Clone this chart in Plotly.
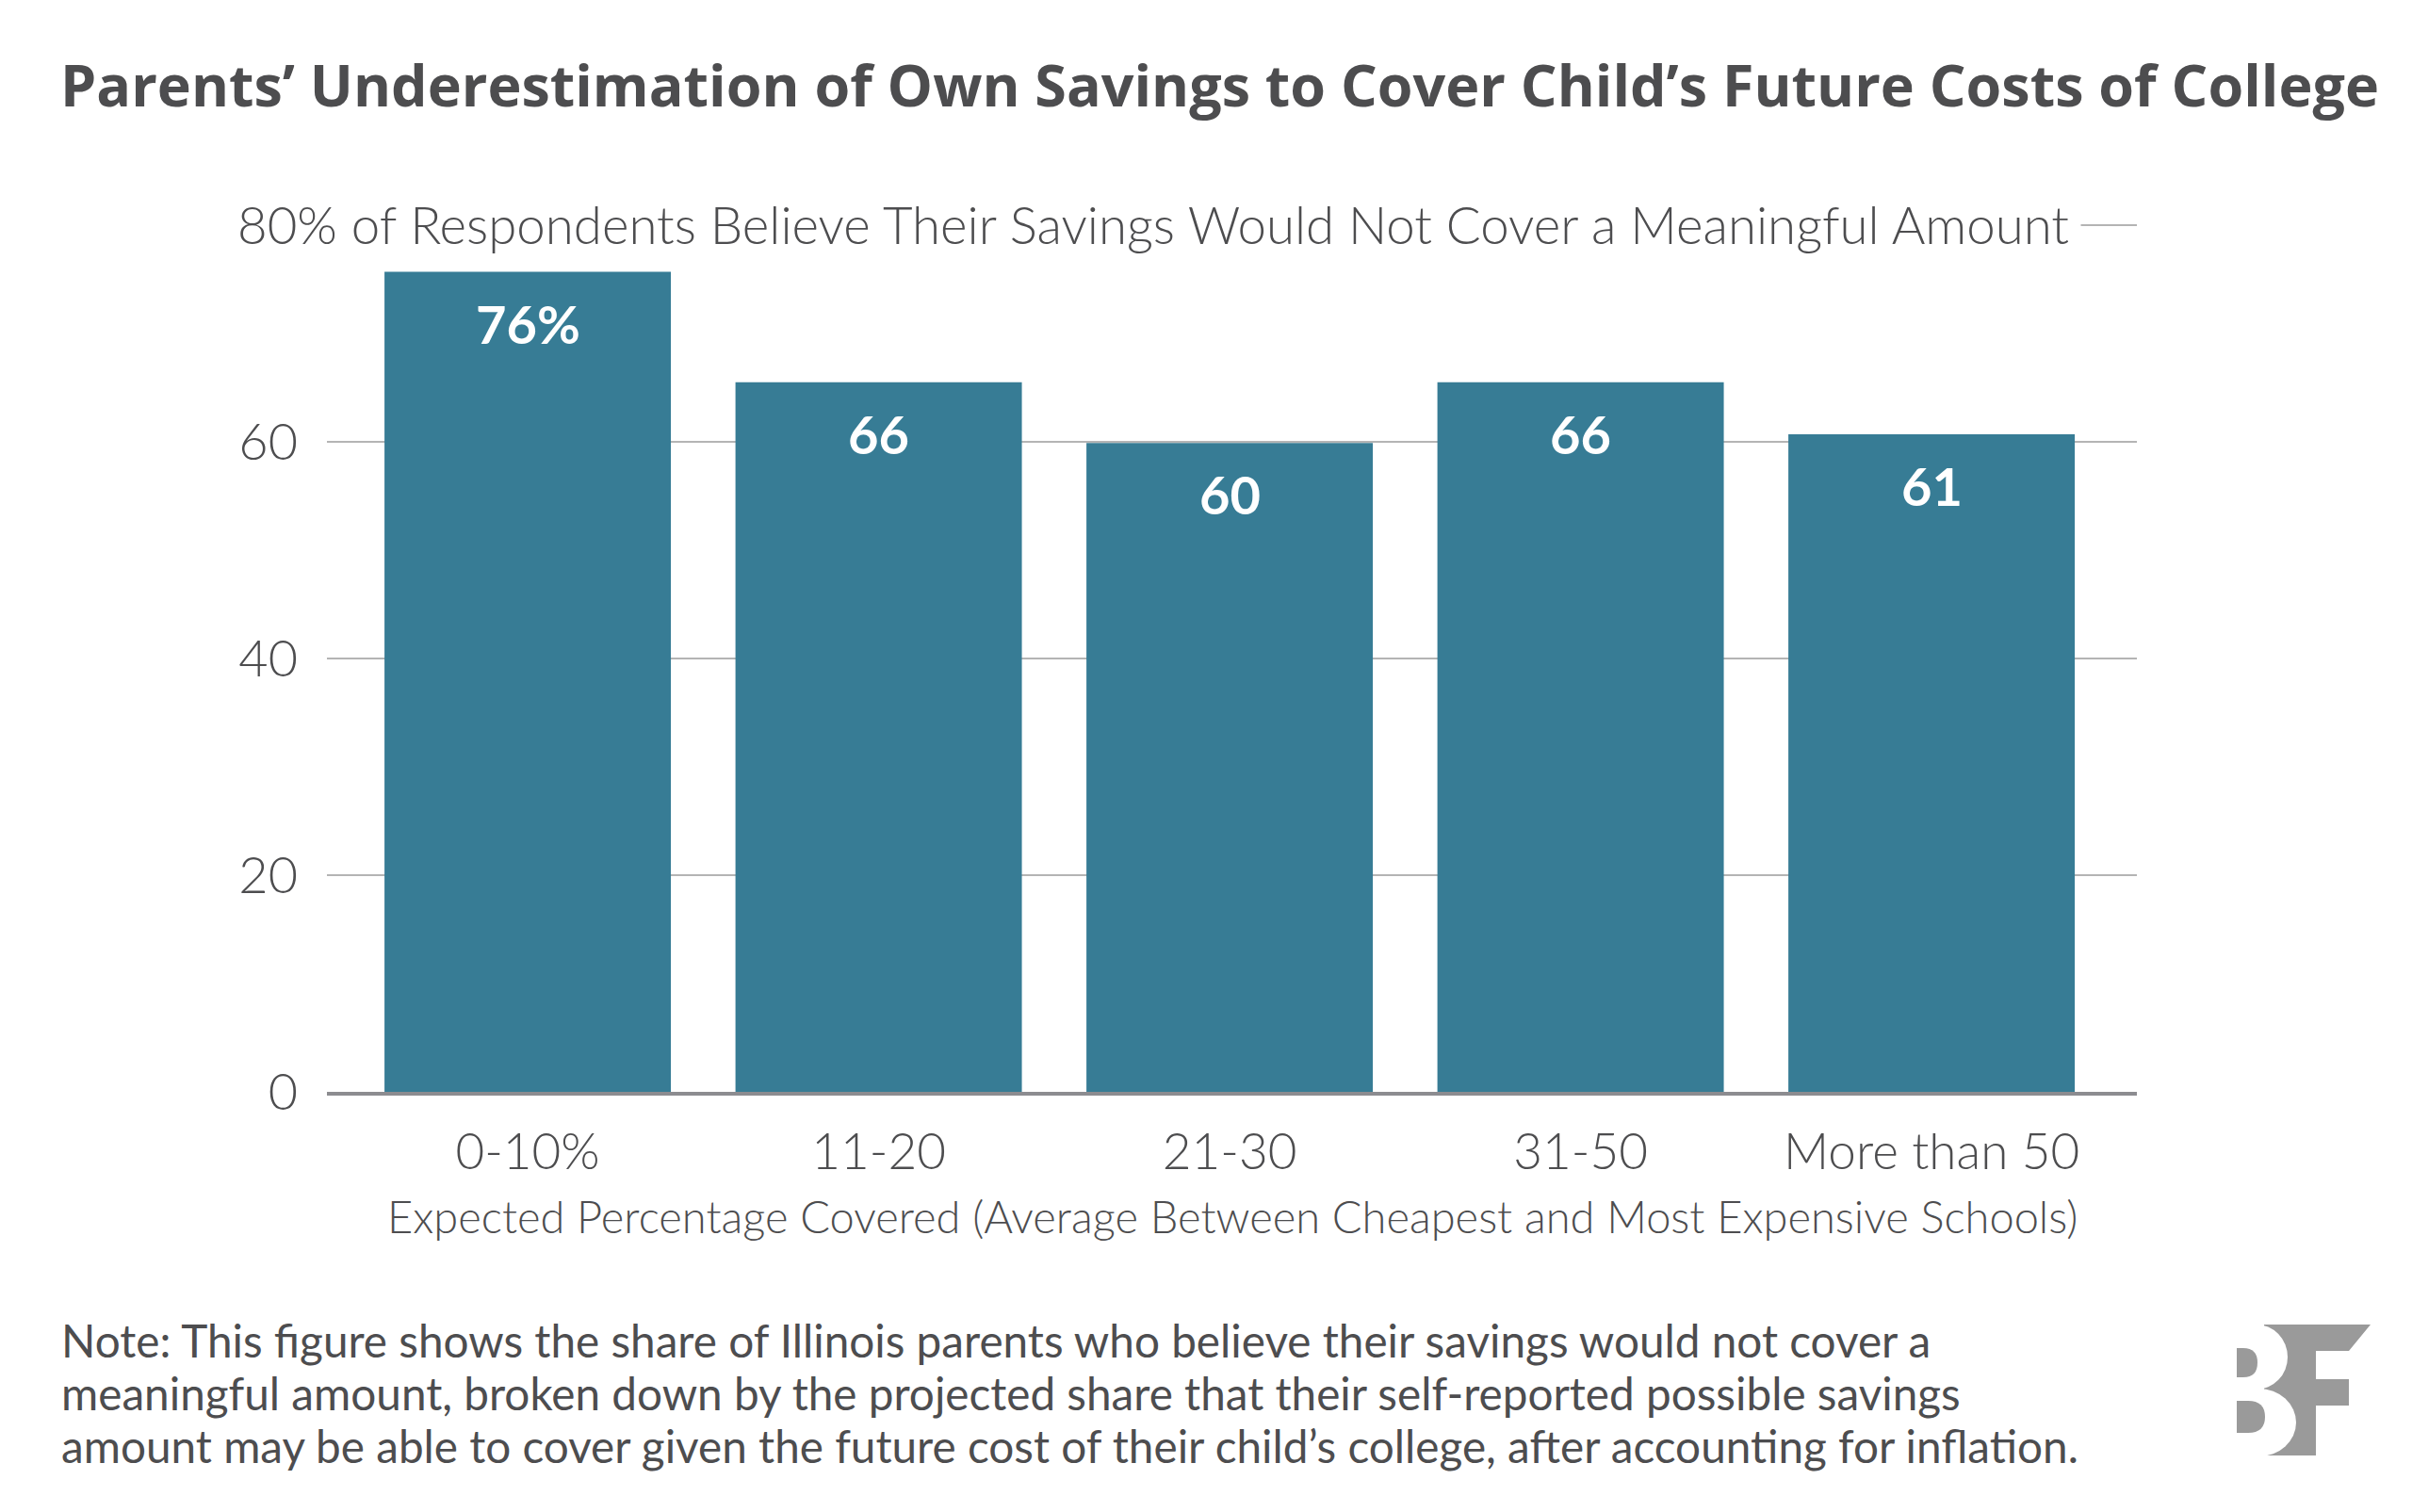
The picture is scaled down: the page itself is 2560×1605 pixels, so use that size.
import plotly.graph_objects as go

# ---------------- data ----------------
categories = ["0-10%", "11-20", "21-30", "31-50", "More than 50"]
values = [75.7, 65.5, 59.9, 65.5, 60.7]
value_labels = ["76%", "66", "60", "66", "61"]
y_tickvals = [0, 20, 40, 60, 80]
y_ticktext = ["0", "20", "40", "60", ""]

title_text = "Parents’ Underestimation of Own Savings to Cover Child’s Future Costs of College"
subtitle_text = "80% of Respondents Believe Their Savings Would Not Cover a Meaningful Amount"
xaxis_title = "Expected Percentage Covered (Average Between Cheapest and Most Expensive Schools)"
note_lines = [
    "Note: This figure shows the share of Illinois parents who believe their savings would not cover a",
    "meaningful amount, broken down by the projected share that their self-reported possible savings",
    "amount may be able to cover given the future cost of their child’s college, after accounting for inflation.",
]

# ---------------- layout constants (reference-pixel coordinates) ----------------
OFF = 8                      # default page body margin
W, H = 2560 - 2 * OFF, 1605 - 2 * OFF
YMAX = 80.1
L, R, B = 347, 2268, 1159
T = B - 920 * YMAX / 80
FONT = "Lato"
TFONT = "Open Sans"
DARK = "#4d4d4f"
BAR = "#377c95"


def px(x):
    return (x - L) / (R - L)


def py(y):
    return (B - y) / (B - T)


fig = go.Figure()
fig.add_trace(go.Bar(
    x=categories, y=values,
    marker=dict(color=BAR, line=dict(width=0)),
    hoverinfo="skip",
))

annotations = []
# title
annotations.append(dict(
    text=title_text, xref="paper", yref="paper", x=px(62), y=py(89),
    xanchor="left", yanchor="middle", showarrow=False,
    font=dict(family=TFONT, size=61, color=DARK, weight="bold"),
))
# subtitle (covers the 80 gridline)
annotations.append(dict(
    text=subtitle_text, xref="paper", yref="paper", x=px(2209), y=py(238),
    xanchor="right", yanchor="middle", showarrow=False,
    bgcolor="white", borderpad=12,
    font=dict(family=FONT, size=54.6, color=DARK, weight=300),
))
# bar value labels
for c, v, t in zip(categories, values, value_labels):
    annotations.append(dict(
        text=t, x=c, y=v, xref="x", yref="y",
        xanchor="center", yanchor="top", yshift=-19, showarrow=False,
        font=dict(family=FONT, size=56, color="white", weight="bold"),
    ))
# x axis title
annotations.append(dict(
    text=xaxis_title, xref="paper", yref="paper", x=0.5, y=py(1291),
    xanchor="center", yanchor="middle", showarrow=False,
    font=dict(family=FONT, size=47, color=DARK, weight=300),
))
# note lines
for i, line in enumerate(note_lines):
    annotations.append(dict(
        text=line, xref="paper", yref="paper", x=px(63), y=py(1423 + i * 56),
        xanchor="left", yanchor="middle", showarrow=False,
        font=dict(family=FONT, size=47.7, color=DARK),
    ))

# logo (decorative)
LOGO = "#9a9a9a"


def path(points):
    return "M " + " L ".join(f"{px(x)},{py(y)}" for x, y in points) + " Z"


f_shape = [(2403, 1406), (2516, 1406), (2493, 1434), (2458, 1434), (2458, 1464),
           (2493, 1464), (2493, 1492), (2458, 1492), (2458, 1545), (2403, 1545)]
shapes = [
    dict(type="path", xref="paper", yref="paper", path=path(f_shape),
         fillcolor=LOGO, line=dict(width=0), layer="above"),
    dict(type="circle", xref="paper", yref="paper",
         x0=px(2361), x1=px(2428), y0=py(1406), y1=py(1475),
         fillcolor="white", line=dict(width=0), layer="above"),
    dict(type="circle", xref="paper", yref="paper",
         x0=px(2358), x1=px(2437), y0=py(1474), y1=py(1546),
         fillcolor="white", line=dict(width=0), layer="above"),
    dict(type="path", xref="paper", yref="paper",
         path=(f"M {px(2374)},{py(1431)} L {px(2381)},{py(1431)} "
               f"Q {px(2396)},{py(1431)} {px(2396)},{py(1446.5)} "
               f"Q {px(2396)},{py(1462)} {px(2381)},{py(1462)} "
               f"L {px(2374)},{py(1462)} Z"),
         fillcolor=LOGO, line=dict(width=0), layer="above"),
    dict(type="path", xref="paper", yref="paper",
         path=(f"M {px(2374)},{py(1487)} L {px(2386)},{py(1487)} "
               f"Q {px(2404)},{py(1487)} {px(2404)},{py(1504)} "
               f"Q {px(2404)},{py(1521)} {px(2386)},{py(1521)} "
               f"L {px(2374)},{py(1521)} Z"),
         fillcolor=LOGO, line=dict(width=0), layer="above"),
]

fig.update_layout(
    width=W, height=H,
    margin=dict(l=L - OFF, r=W - (R - OFF), t=T - OFF, b=H - (B - OFF), pad=0),
    paper_bgcolor="white", plot_bgcolor="white",
    showlegend=False,
    bargap=0.184,
    annotations=annotations,
    shapes=shapes,
    font=dict(family=FONT, color=DARK),
    xaxis=dict(
        range=[-0.572, 4.585], showgrid=False, zeroline=False,
        showline=True, linecolor="#8c8c90", linewidth=4,
        ticks="", ticklabelstandoff=14,
        tickfont=dict(family=FONT, size=53, color=DARK, weight=300),
        fixedrange=True,
    ),
    yaxis=dict(
        range=[0, YMAX], tickvals=y_tickvals, ticktext=y_ticktext,
        showgrid=True, gridcolor="#b4b4b4", gridwidth=2,
        zeroline=False, showline=False, ticks="",
        ticklabelstandoff=30,
        tickfont=dict(family=FONT, size=54, color=DARK, weight=300),
        fixedrange=True,
    ),
)

fig.write_html("out.html")
